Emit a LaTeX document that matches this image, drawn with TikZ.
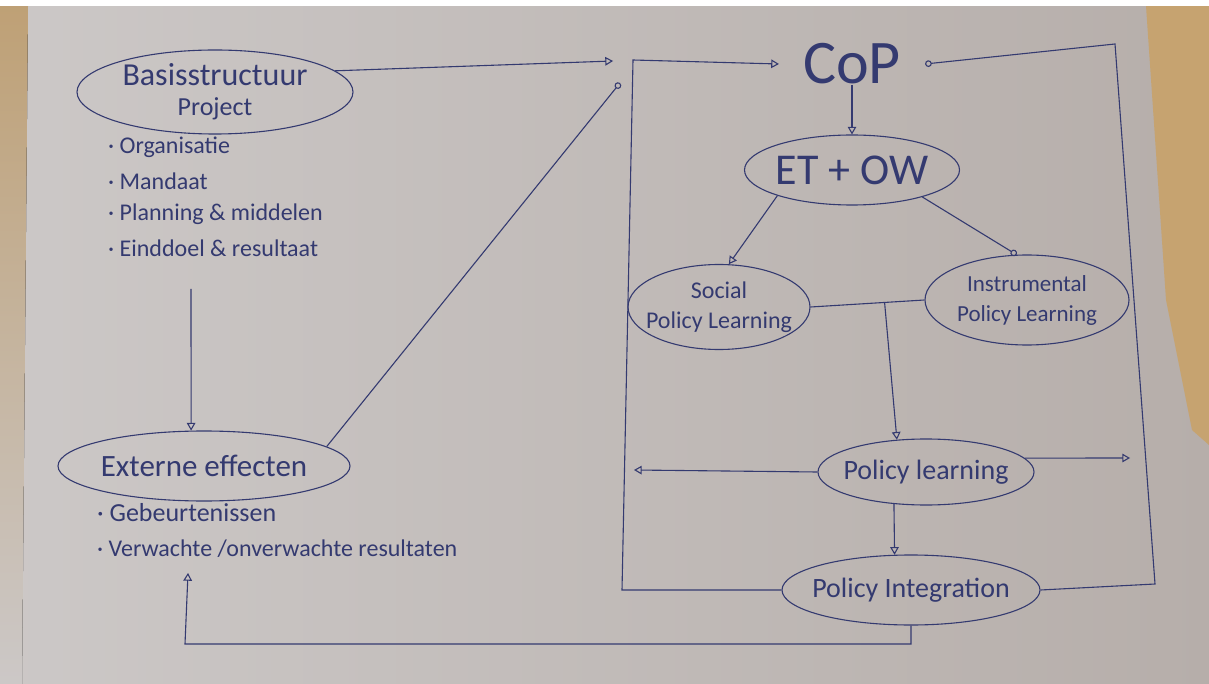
\documentclass[tikz,border=0pt]{standalone}
\usepackage{fontspec}
\setmainfont{Carlito}
\usepackage{tikz}
\usepackage{xcolor}
\usetikzlibrary{shapes,arrows,calc}

\definecolor{inkblue}{RGB}{52,58,112}
\definecolor{paperlight}{RGB}{204,200,199}
\definecolor{paperdark}{RGB}{182,174,170}
\definecolor{desk}{RGB}{198,163,112}
\definecolor{deskgrey}{RGB}{160,150,140}

\newcommand{\hand}[2]{\fontsize{#1}{#2}\selectfont}

\begin{document}
\begin{tikzpicture}[x=1pt,y=-1pt,
    ink/.style={draw=inkblue,line width=1.1pt},
    bubble/.style={ellipse,ink,text=inkblue,inner xsep=-14pt,inner ysep=0pt,align=center},
    word/.style={text=inkblue,inner sep=0pt},
    item/.style={anchor=west,text=inkblue,inner sep=0pt,font=\hand{24}{28}},
    conn/.style={ink,-open triangle 60},
    ringconn/.style={ink,-o}]
    \useasboundingbox (0,0) rectangle (1209,684);

    % paper and desk
    \fill[left color=paperlight,right color=paperdark] (0,0) rectangle (1209,684);
    \fill[top color=desk!80!deskgrey,bottom color=paperlight] (0,6) -- (28,6) -- (22,684) -- (0,684) -- cycle;
    \fill[desk] (1146,6) -- (1209,6) -- (1209,445) -- (1192,430) -- (1166,300) -- cycle;
    \fill[white] (0,0) rectangle (1209,6);

    % left column
    \node[bubble,minimum width=276pt,minimum height=84pt,font=\hand{32}{30}] (basis) at (215,92)
        {Basisstructuur\\{\hand{26}{30}Project}};
    \node[item] (org) at (108,147) {· Organisatie};
    \node[item] (mand) at (108,181) {· Mandaat};
    \node[item] (plan) at (108,214) {· Planning \& middelen};
    \node[item] (eind) at (108,248) {· Einddoel \& resultaat};

    \node[bubble,minimum width=292pt,minimum height=70pt,font=\hand{31}{34}] (ext) at (204,466) {Externe effecten};
    \node[item,font=\hand{26}{28}] (geb) at (97,513) {· Gebeurtenissen};
    \node[item] (verw) at (97,549) {· Verwachte /onverwachte resultaten};

    \coordinate (d1) at (191,289);
    \coordinate (in1) at (613,61);
    \coordinate (in2) at (620,83);
    \coordinate (ve) at (188,573);
    \coordinate (lo2) at (185,644);

    % right column
    \node[word,inner xsep=24pt,font=\hand{62}{62}] (cop) at (852,64) {CoP};
    \node[bubble,minimum width=215pt,minimum height=70pt,font=\hand{44}{44}] (et) at (852,170) {ET + OW};
    \node[bubble,minimum width=182pt,minimum height=85pt,font=\hand{24}{30}] (social) at (719,307) {Social\\Policy Learning};
    \node[bubble,minimum width=204pt,minimum height=90pt,font=\hand{23}{30}] (instr) at (1027,300) {Instrumental\\Policy Learning};
    \node[bubble,minimum width=216pt,minimum height=66pt,font=\hand{28}{30}] (pl) at (926,472) {Policy learning};
    \node[bubble,minimum width=258pt,minimum height=70pt,font=\hand{28}{30}] (pi) at (911,590) {Policy Integration};

    \coordinate (tl) at (633,60);
    \coordinate (bl) at (622,590);
    \coordinate (tr) at (1115,44);
    \coordinate (br) at (1155,584);
    \coordinate (j) at ($(social.east)!0.65!(instr.west)$);
    \coordinate (lo) at (634,470);
    \coordinate (ro) at (1130,458);

    % connectors
    \draw[conn] (basis.10) -- (in1);
    \draw[ringconn] (ext.9) -- (in2);
    \draw[conn] (d1) -- (ext.110);
    \draw[conn] (pi.south) |- (lo2) -- (ve);

    \draw[conn] (pi.west) -- (bl) -- (tl) -- (cop.west);
    \draw[ringconn] (pi.east) -- (br) -- (tr) -- (cop.east);
    \draw[conn] (cop.south) -- (et.north);
    \draw[conn] (et.199) -- (social.77);
    \draw[ringconn] (et.339) -- (instr.103);
    \draw[ink] (social.east) -- (instr.west);
    \draw[conn] (j) -- (pl.132);
    \draw[conn] (pl.west) -- (lo);
    \draw[conn] (pl.8) -- (ro);
    \draw[conn] (pl.225) -- (pi.115);
\end{tikzpicture}
\end{document}
